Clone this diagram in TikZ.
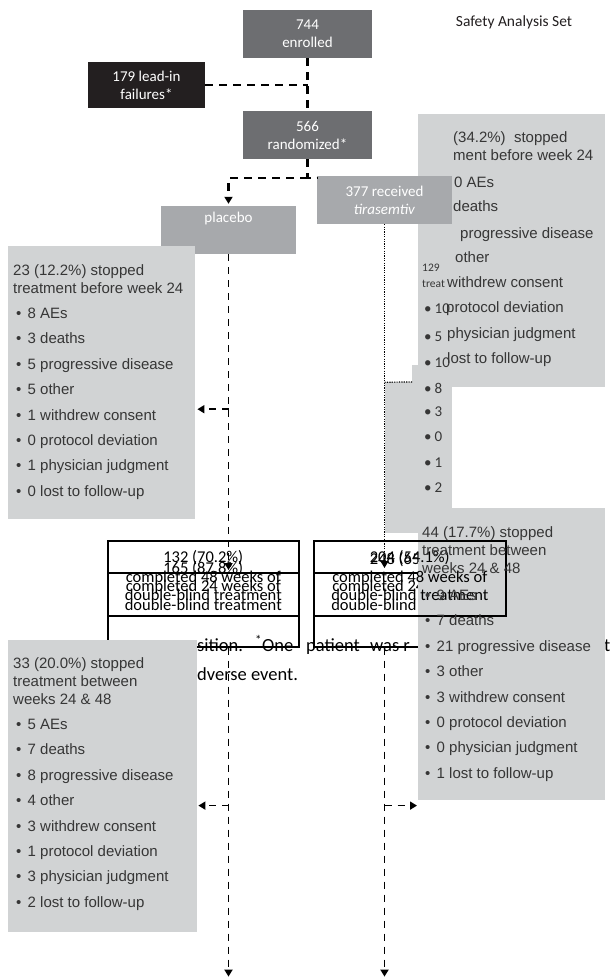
\documentclass[tikz,border=0pt]{standalone}
\usepackage{fontspec}
\setmainfont{Carlito}
\newfontfamily\arialfont{Liberation Sans}
\usepackage{tikz}
\usetikzlibrary{positioning, calc, arrows.meta}

\definecolor{boxdark}{HTML}{6D6E71}
\definecolor{boxblack}{HTML}{231F20}
\definecolor{boxmid}{HTML}{A7A9AC}
\definecolor{boxlight}{HTML}{D1D3D4}
\definecolor{listink}{HTML}{363636}

\newcommand{\blt}{\hspace{3pt}\makebox[11.5pt][l]{•}}

\tikzset{
  flowbox/.style={fill=#1, text=white, align=center, inner sep=0pt,
    minimum width=129pt, minimum height=48pt, font=\fontsize{15}{18}\selectfont},
  graybox/.style={fill=boxlight, anchor=north west, inner sep=0pt},
  donebox/.style={draw=black, line width=1.6pt, anchor=north west, inner sep=0pt},
  bigdash/.style={line width=2.2pt, dash pattern=on 8pt off 6pt},
  smalldash/.style={line width=1.7pt, dash pattern=on 7pt off 6pt},
  dotline/.style={line width=1.2pt, dash pattern=on 1.2pt off 1.2pt},
  headarrow/.style={-{Triangle[width=8pt,length=7pt]}},
  listtxt/.style={anchor=north west, align=left, inner sep=0pt, text=listink,
    font=\arialfont\fontsize{15}{18}\selectfont},
  frag/.style={anchor=base west, inner sep=0pt, text=listink,
    font=\arialfont\fontsize{15}{18}\selectfont},
  cfrag/.style={anchor=base west, inner sep=0pt, text=listink,
    font=\fontsize{15}{18}\selectfont},
  donetxt/.style={anchor=base, inner sep=0pt, font=\fontsize{16.5}{18}\selectfont},
  capt/.style={anchor=base west, inner sep=0pt, font=\fontsize{18.5}{20}\selectfont},
}

\begin{document}
\begin{tikzpicture}[x=1pt,y=-1pt]
\useasboundingbox (0,0) rectangle (611,980);

\node[capt] (cap1) at (197,651) {sition.};
\node[capt] (cap2) at (255,651) {\textsuperscript{*}One};
\node[capt] (cap3) at (306,651) {patient};
\node[capt] (cap4) at (370,651) {was r};
\node[capt] (cap5) at (604,651) {t};
\node[capt] (cap6) at (197,680) {dverse event.};

\node[flowbox=boxdark] (enrolled) at (307.5,34) {744\\enrolled};
\node[flowbox=boxblack, minimum width=117pt, minimum height=46pt] (leadin) at (146.5,85) {179 lead-in\\failures*};
\node[flowbox=boxdark] (random) at (307.5,135) {566\\randomized*};
\node[font=\fontsize{15.5}{18}\selectfont, text=boxblack] (safety) at (514,22) {Safety Analysis Set};

\node[flowbox=boxmid, minimum width=135pt] (placebo) at (228.5,230) {};
\node[text=white, inner sep=0pt, font=\fontsize{15}{18}\selectfont, below=6pt of placebo.north] (placebolbl) {placebo};

\fill[boxlight] (412,365) rectangle (605,533);
\fill[boxlight] (385,382) rectangle (605,533);
\node[graybox, minimum width=187pt, minimum height=273pt] (stop24t) at (418,114) {};
\foreach \lbl/\xx/\yy [count=\i] in {{(34.2\%)\ \ stopped}/453/142, {ment before week 24}/453/160,
    {0 AEs}/454/187, {deaths}/453/211, {progressive disease}/460/238, {other}/455/262,
    {withdrew consent}/447/287, {protocol deviation}/446/312, {physician judgment}/447/338,
    {lost to follow-up}/447/363}
  \node[frag] (s24t\i) at (\xx,\yy) {\lbl};
\node[cfrag, font=\fontsize{11.5}{13}\selectfont] (n24t) at (422,271) {129};
\node[cfrag, font=\fontsize{11.5}{13}\selectfont] (h24t) at (422,287) {treat};
\foreach \num/\yy [count=\i] in {10/313, 5/341, 10/367, 8/393, 3/416, 0/441, 1/467, 2/492}
  \node[cfrag] (c24t\i) at (424,\yy) {\makebox[10.5pt][l]{•}\num};
\fill[white] (452,387) rectangle (605,508);

\node[flowbox=boxmid, minimum width=135pt] (tira) at (384.5,200) {377 received\\\textit{tirasemtiv}};

\draw[bigdash] (enrolled.south) -- (random.north);
\draw[bigdash] (leadin.east) -- (leadin.east -| enrolled.south);
\coordinate (split) at ($(random.south)+(0,19)$);
\draw[bigdash] (random.south) -- (split) -- (split -| tira.west);
\draw[bigdash, headarrow, shorten >=2pt] (split) -| (placebo.north);

\node[donebox, minimum width=191pt, minimum height=74pt] (done24p) at (107,572) {};
\node[donebox, minimum width=192pt, minimum height=74pt] (done24t) at (313,572) {};
\node[donetxt] (n24p) at ($(done24p.north)+(0,1)$) {165 (87.8\%)};
\node[donetxt] (a24p) at ($(done24p.north)+(0,19)$) {completed 24 weeks of};
\node[donetxt] (b24p) at ($(done24p.north)+(0,38)$) {double-blind treatment};
\node[donetxt] (n24tt) at ($(done24t.north)+(0,-8)$) {248 (65.8\%)};
\node[donetxt] (a24t) at ($(done24t.north)+(0,19)$) {completed 24 weeks of};
\node[donetxt] (b24t) at ($(done24t.north)+(0,38)$) {double-blind treatment};

\node[graybox, minimum width=187pt, minimum height=292pt] (stop48t) at (418,508) {};

\node[donebox, minimum width=191pt, minimum height=75pt] (done48p) at (107,540) {};
\node[donebox, minimum width=192pt, minimum height=75pt] (done48t) at (313,540) {};
\node[donetxt] (n48p) at ($(done48p.north)+(0,22)$) {132 (70.2\%)};
\node[donetxt] (a48p) at ($(done48p.north)+(0,42)$) {completed 48 weeks of};
\node[donetxt] (b48p) at ($(done48p.north)+(0,60)$) {double-blind treatment};
\node[donetxt] (n48t) at ($(done48t.north)+(0,22)$) {204 (54.1\%)};
\node[donetxt] (a48t) at ($(done48t.north)+(0,42)$) {completed 48 weeks of};
\node[donetxt] (b48t) at ($(done48t.north)+(0,60)$) {double-blind treatment};

\node[listtxt] (l48t) at (422,526.5) {44 (17.7\%) stopped\\treatment between\\weeks 24 \& 48\\[9pt]%
  \blt 9 AEs\\[7.4pt]\blt 7 deaths\\[7.4pt]\blt 21 progressive disease\\[7.4pt]\blt 3 other\\[7.4pt]%
  \blt 3 withdrew consent\\[7.4pt]\blt 0 protocol deviation\\[7.4pt]\blt 0 physician judgment\\[7.4pt]%
  \blt 1 lost to follow-up};

\node[graybox, minimum width=187pt, minimum height=273pt] (stop24p) at (8,246) {};
\node[listtxt] (l24p) at (13,264.5) {23 (12.2\%) stopped\\treatment before week 24\\[7pt]%
  \blt 8 AEs\\[7.4pt]\blt 3 deaths\\[7.4pt]\blt 5 progressive disease\\[7.4pt]\blt 5 other\\[7.4pt]%
  \blt 1 withdrew consent\\[7.4pt]\blt 0 protocol deviation\\[7.4pt]\blt 1 physician judgment\\[7.4pt]%
  \blt 0 lost to follow-up};
\node[graybox, minimum width=189pt, minimum height=292pt] (stop48p) at (8,640) {};
\node[listtxt] (l48p) at (13,657.5) {33 (20.0\%) stopped\\treatment between\\weeks 24 \& 48\\[7pt]%
  \blt 5 AEs\\[7.4pt]\blt 7 deaths\\[7.4pt]\blt 8 progressive disease\\[7.4pt]\blt 4 other\\[7.4pt]%
  \blt 3 withdrew consent\\[7.4pt]\blt 1 protocol deviation\\[7.4pt]\blt 3 physician judgment\\[7.4pt]%
  \blt 2 lost to follow-up};

\coordinate (in48p) at ($(placebo.south |- done48p.north)+(0,30)$);
\coordinate (branch24p) at ($(placebo.south)+(0,155)$);
\draw[smalldash, headarrow] (placebo.south) -- (in48p);
\draw[smalldash, headarrow, shorten >=2pt] (branch24p) -- (branch24p -| stop24p.east);

\coordinate (in48t) at ($(tira.south |- done48t.north)+(0,28)$);
\coordinate (turn) at ($(tira.south)+(0,158)$);
\coordinate (box2edge) at (412,382);
\draw[dotline, headarrow] (tira.south) -- (in48t);
\draw[dotline] (turn) -- (box2edge);

\coordinate (out48p) at (placebo.south |- done24p.south);
\coordinate (endp) at ($(out48p)+(0,329)$);
\coordinate (branch48p) at ($(out48p)+(0,158)$);
\draw[smalldash, headarrow] (out48p) -- (endp);
\draw[smalldash, headarrow, shorten >=1pt] (branch48p) -- (branch48p -| stop48p.east);

\coordinate (out48t) at (tira.south |- done24t.south);
\coordinate (endt) at ($(out48t)+(0,329)$);
\coordinate (branch48t) at ($(out48t)+(0,158)$);
\draw[smalldash, headarrow] (out48t) -- (endt);
\draw[smalldash, headarrow, shorten >=1pt] (branch48t) -- (branch48t -| stop48t.west);
\end{tikzpicture}
\end{document}
